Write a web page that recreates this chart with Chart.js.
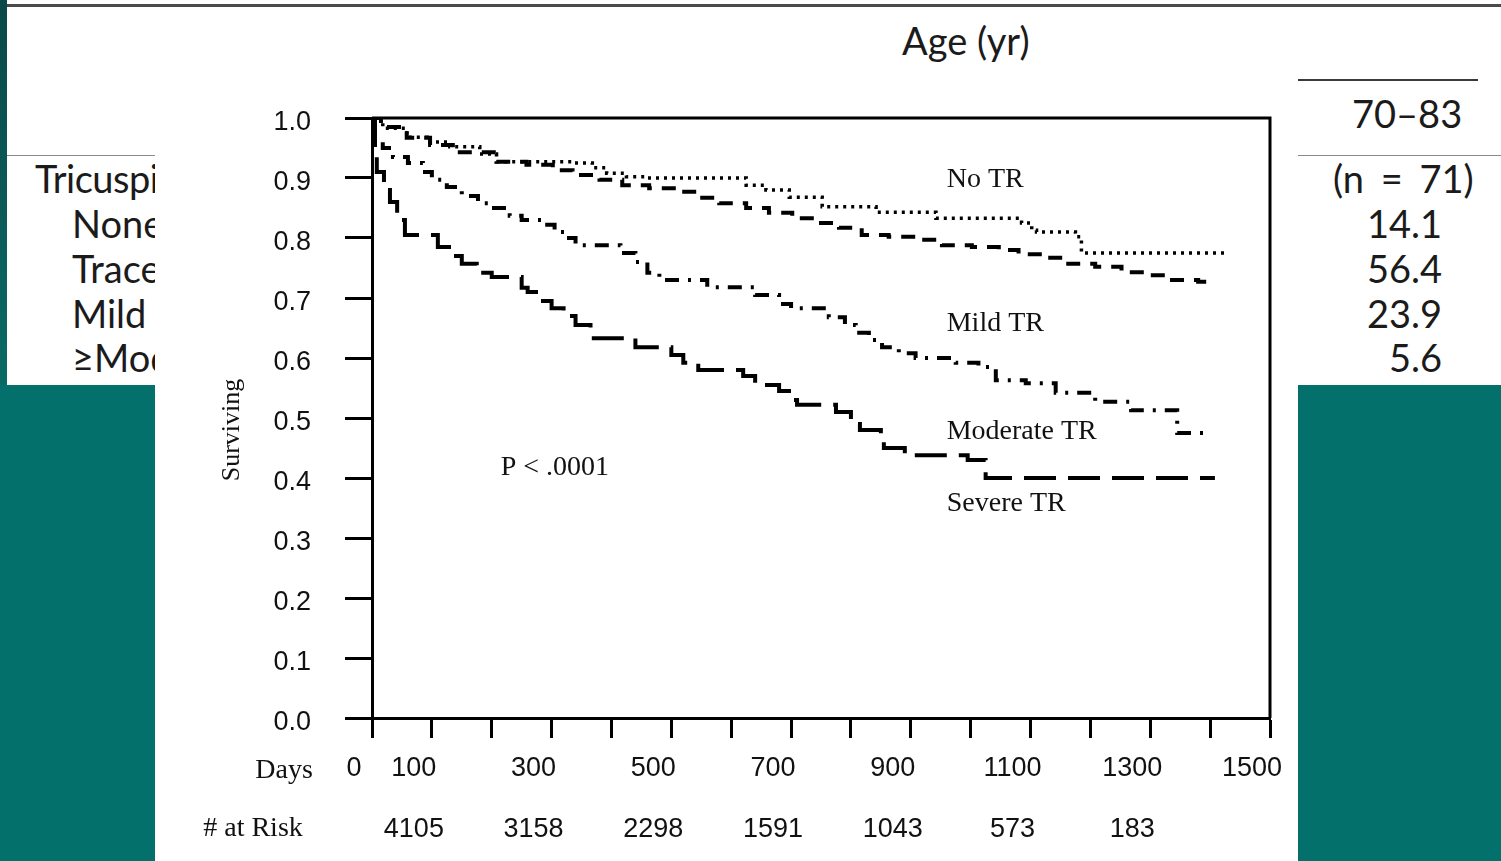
<!DOCTYPE html>
<html>
<head>
<meta charset="utf-8">
<script src="https://cdn.jsdelivr.net/npm/chart.js@4.4.1/dist/chart.umd.min.js"></script>
<style>
  body { margin: 0; width: 1501px; height: 861px; background: #03706c; position: relative; overflow: hidden;
         font-family: Lato, "Open Sans", sans-serif; color: #1b1b1b; }
  .slide { position: absolute; left: 7px; top: 0; width: 1494px; height: 385px; background: #fff; }
  .strip { position: absolute; left: 0; top: 0; width: 7px; height: 385px; background: linear-gradient(#0b4848, #0a6a66); }
  .rule { position: absolute; }
  .t { position: absolute; font-size: 38px; line-height: 45px; white-space: nowrap; }
  .leftcol { position: absolute; left: 7px; top: 156px; width: 148px; height: 229px; overflow: hidden; }
  .chartbox { position: absolute; left: 155px; top: 90px; width: 1143px; height: 771px; background: #fff; }
</style>
</head>
<body>
<div class="slide"></div>
<div class="strip"></div>
<div class="rule" style="left:7px; top:4px; width:1494px; height:3px; background:#4a4a4a;"></div>
<div class="rule" style="left:1298px; top:79px; width:180px; height:2px; background:#3a3a3a;"></div>
<div class="rule" style="left:7px; top:155px; width:1494px; height:1px; background:#8a8a8a;"></div>

<div class="t" style="left:902px; top:18px;">Age (yr)</div>
<div class="t" style="left:1352px; top:91px;">70–83</div>

<div class="leftcol">
  <div class="t" style="left:28px; top:0; letter-spacing:-0.5px;">Tricuspid regurgitation (%)</div>
  <div class="t" style="left:65px; top:45px;">None</div>
  <div class="t" style="left:65px; top:90px;">Trace</div>
  <div class="t" style="left:65px; top:135px;">Mild</div>
  <div class="t" style="left:65px; top:179px;">≥Moderate</div>
</div>

<div class="t" style="left:1333px; top:156px; word-spacing:7px;">(n = 71)</div>
<div class="t" style="right:59px; top:201px;">14.1</div>
<div class="t" style="right:59px; top:246px;">56.4</div>
<div class="t" style="right:59px; top:291px;">23.9</div>
<div class="t" style="right:59px; top:335px;">5.6</div>

<div class="chartbox"><canvas id="km" width="1143" height="771"></canvas></div>

<script>
// survival curves (days, fraction surviving)
const noTrDays = [0, 18, 58, 92, 130, 180, 208, 335, 368, 392, 425, 458, 625, 658, 697, 752, 842, 942, 1085, 1102, 1110, 1175, 1185, 1425];
const noTrSurv = [1.0, 0.983, 0.968, 0.96, 0.952, 0.94, 0.927, 0.925, 0.917, 0.908, 0.902, 0.9, 0.888, 0.88, 0.868, 0.852, 0.843, 0.833, 0.825, 0.813, 0.81, 0.802, 0.775, 0.775];

const mildDays = [0, 15, 58, 97, 135, 208, 258, 302, 335, 380, 418, 463, 508, 547, 580, 625, 663, 702, 742, 780, 818, 863, 913, 952, 1002, 1047, 1080, 1125, 1163, 1208, 1252, 1292, 1330, 1380, 1402];
const mildSurv = [1.0, 0.985, 0.967, 0.955, 0.943, 0.927, 0.922, 0.913, 0.905, 0.897, 0.888, 0.883, 0.877, 0.867, 0.858, 0.85, 0.842, 0.833, 0.825, 0.817, 0.805, 0.802, 0.797, 0.788, 0.785, 0.78, 0.773, 0.767, 0.757, 0.752, 0.743, 0.738, 0.73, 0.727, 0.727];

const modDays = [0, 3, 18, 35, 60, 85, 100, 125, 150, 177, 200, 230, 250, 288, 305, 325, 340, 415, 440, 460, 480, 560, 640, 680, 700, 763, 790, 808, 830, 852, 880, 908, 975, 1013, 1042, 1092, 1142, 1208, 1268, 1345, 1402];
const modSurv = [1.0, 0.96, 0.95, 0.935, 0.925, 0.91, 0.897, 0.885, 0.87, 0.858, 0.85, 0.837, 0.83, 0.822, 0.81, 0.8, 0.788, 0.775, 0.76, 0.742, 0.73, 0.718, 0.705, 0.69, 0.683, 0.668, 0.655, 0.642, 0.63, 0.618, 0.608, 0.6, 0.592, 0.585, 0.563, 0.558, 0.542, 0.527, 0.513, 0.475, 0.475];

const sevDays = [0, 5, 8, 20, 30, 42, 55, 110, 135, 150, 175, 200, 250, 260, 280, 300, 320, 340, 365, 440, 500, 520, 545, 620, 640, 680, 700, 710, 775, 800, 815, 850, 855, 890, 995, 1025, 1408];
const sevSurv = [1.0, 0.95, 0.91, 0.88, 0.86, 0.83, 0.805, 0.785, 0.77, 0.757, 0.742, 0.735, 0.717, 0.71, 0.695, 0.683, 0.67, 0.655, 0.633, 0.618, 0.605, 0.592, 0.58, 0.57, 0.555, 0.545, 0.53, 0.522, 0.51, 0.49, 0.48, 0.465, 0.45, 0.438, 0.43, 0.40, 0.40];

const dayLabels = [0, 100, 300, 500, 700, 900, 1100, 1300, 1500];
const atRiskDays = [100, 300, 500, 700, 900, 1100, 1300];
const atRiskCounts = [4105, 3158, 2298, 1591, 1043, 573, 183];

const toPts = (days, surv) => days.map((d, i) => ({ x: d, y: surv[i] }));

const sans = '"Liberation Sans", Arial, sans-serif';
const serif = '"Liberation Serif", "Times New Roman", serif';

const kmDecor = {
  id: 'kmDecor',
  afterDraw(chart) {
    const { ctx, chartArea: a, scales: { x, y } } = chart;
    ctx.save();
    // top and right frame
    ctx.strokeStyle = '#000';
    ctx.lineWidth = 3;
    ctx.beginPath();
    ctx.moveTo(a.left, a.top);
    ctx.lineTo(a.right, a.top);
    ctx.lineTo(a.right, a.bottom);
    ctx.stroke();

    ctx.fillStyle = '#111';
    ctx.font = '28px ' + serif;
    ctx.textBaseline = 'middle';
    ctx.textAlign = 'left';
    [['No TR', 960, 0.897], ['Mild TR', 960, 0.658], ['Moderate TR', 960, 0.477],
     ['Severe TR', 960, 0.357], ['P < .0001', 215, 0.418]].forEach(([txt, d, v]) => {
      ctx.fillText(txt, x.getPixelForValue(d), y.getPixelForValue(v));
    });

    ctx.textAlign = 'center';
    ctx.fillText('Days', a.left - 88, a.bottom + 53);
    ctx.fillText('# at Risk', a.left - 119, a.bottom + 111);

    ctx.save();
    ctx.translate(a.left - 140, y.getPixelForValue(0.48));
    ctx.rotate(-Math.PI / 2);
    ctx.font = '26px ' + serif;
    ctx.fillText('Surviving', 0, 0);
    ctx.restore();

    ctx.font = '27px ' + sans;
    atRiskDays.forEach((d, i) => {
      ctx.fillText(String(atRiskCounts[i]), x.getPixelForValue(d) - 18, a.bottom + 112);
    });
    ctx.restore();
  }
};

const line = (label, days, surv, dash, width) => ({
  label,
  data: toPts(days, surv),
  borderColor: '#000',
  borderWidth: width,
  borderDash: dash,
  borderCapStyle: 'butt',
  stepped: 'before',
  pointRadius: 0,
  fill: false,
});

new Chart(document.getElementById('km').getContext('2d'), {
  type: 'line',
  data: {
    datasets: [
      line('No TR', noTrDays, noTrSurv, [3, 5], 3.5),
      line('Mild TR', mildDays, mildSurv, [14, 10], 4),
      line('Moderate TR', modDays, modSurv, [14, 9, 3, 9], 4),
      line('Severe TR', sevDays, sevSurv, [32, 12], 4),
    ],
  },
  options: {
    responsive: false,
    animation: false,
    devicePixelRatio: 1,
    layout: { padding: { top: 28, right: 28, left: 0, bottom: 0 } },
    plugins: { legend: { display: false }, tooltip: { enabled: false } },
    scales: {
      x: {
        type: 'linear',
        min: 0,
        max: 1500,
        afterFit: (s) => { s.height = 143; s.paddingLeft = 0; s.paddingRight = 0; },
        ticks: {
          stepSize: 100,
          autoSkip: false,
          maxRotation: 0,
          labelOffset: -18,
          padding: 14,
          color: '#111',
          font: { family: sans, size: 27 },
          callback: (v) => (dayLabels.includes(v) ? String(v) : ''),
        },
        grid: { drawOnChartArea: false, drawTicks: true, tickLength: 20, tickWidth: 3, tickColor: '#000' },
        border: { display: true, width: 3, color: '#000' },
      },
      y: {
        min: 0,
        max: 1,
        afterFit: (s) => { s.width = 217; s.paddingTop = 0; s.paddingBottom = 0; },
        ticks: {
          stepSize: 0.1,
          padding: 34,
          labelOffset: 5,
          color: '#111',
          font: { family: sans, size: 27 },
          callback: (v) => Number(v).toFixed(1),
        },
        grid: { drawOnChartArea: false, drawTicks: true, tickLength: 27, tickWidth: 3, tickColor: '#000' },
        border: { display: true, width: 3, color: '#000' },
      },
    },
  },
  plugins: [kmDecor],
});
</script>
</body>
</html>
